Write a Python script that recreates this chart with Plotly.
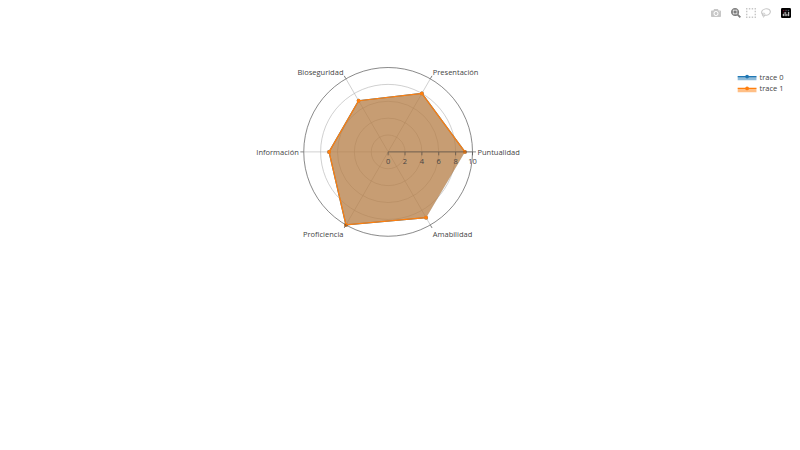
# radar chart, both traces have the same scores
import plotly.graph_objects as go

categories = ["Puntualidad", "Presentación", "Bioseguridad", "Información", "Proficiencia", "Amabilidad"]
scores_0 = [9.1, 8, 7, 7, 10, 9]
scores_1 = [9.1, 8, 7, 7, 10, 9]

fig = go.Figure()
fig.add_trace(go.Scatterpolar(r=scores_0, theta=categories, fill="toself"))
fig.add_trace(go.Scatterpolar(r=scores_1, theta=categories, fill="toself"))

# reference is a 1280 wide page shrunk down to 800
fig.update_layout(
    width=1264,
    height=450,
    template="none",
    showlegend=True,
    margin=dict(t=100, b=80, l=80, r=118),
    polar=dict(radialaxis=dict(visible=True, range=[0, 10])),
)

fig.write_html(
    "out.html",
    config={"displayModeBar": True},
    post_script="document.body.style.zoom = 0.625;",
)
